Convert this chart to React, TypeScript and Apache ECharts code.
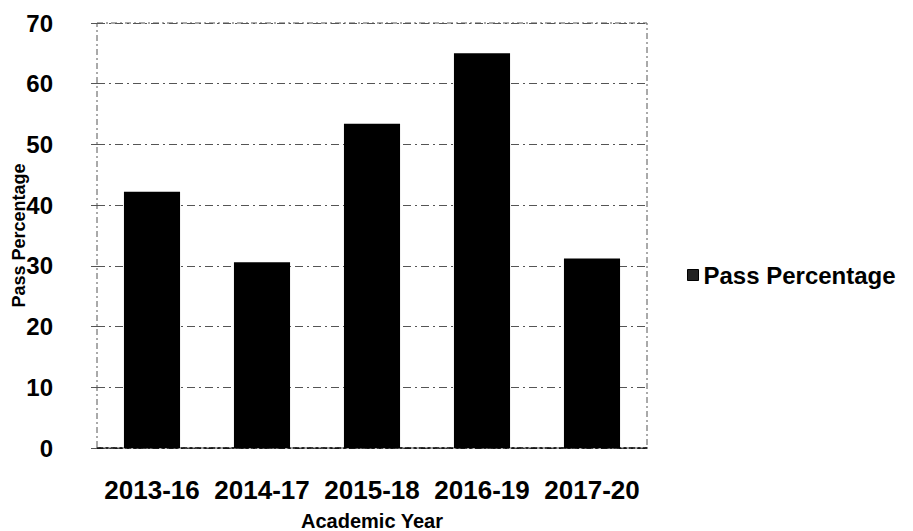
import React, { useEffect, useRef } from "react";
import * as echarts from "echarts";

const categories: string[] = ["2013-16", "2014-17", "2015-18", "2016-19", "2017-20"];
const passPercentage: number[] = [42.2, 30.6, 53.4, 65.0, 31.2];
const seriesName = "Pass Percentage";
const yAxisName = "Pass Percentage";
const xAxisName = "Academic Year";

export default function App() {
  const ref = useRef<HTMLDivElement>(null);
  useEffect(() => {
    if (!ref.current) return;
    const chart = echarts.init(ref.current, null, { renderer: "svg" });
    const font = "'Liberation Sans', Arial, sans-serif";
    chart.setOption({
      animation: false,
      backgroundColor: "#ffffff",
      textStyle: { fontFamily: font, color: "#000" },
      grid: {
        left: 97,
        right: 266,
        top: 23,
        bottom: 83,
        containLabel: false,
        outerBoundsMode: "none",
        show: true,
        borderColor: "#555",
        borderWidth: 1,
        borderType: [6, 3, 2, 3],
      },
      legend: {
        show: true,
        orient: "vertical",
        left: 682,
        top: 258,
        itemWidth: 11,
        itemHeight: 11,
        itemGap: 6,
        icon: "rect",
        textStyle: { fontFamily: font, fontSize: 24, fontWeight: "bold", color: "#000" },
        data: [{ name: seriesName, itemStyle: { color: "#222", borderColor: "#000", borderWidth: 1 } }],
      },
      xAxis: {
        type: "category",
        data: categories,
        name: xAxisName,
        nameLocation: "middle",
        nameGap: 63,
        nameMoveOverlap: false,
        nameTextStyle: { fontFamily: font, fontSize: 20, fontWeight: "bold", color: "#000" },
        axisLine: { show: true, lineStyle: { color: "#000", width: 1.5, type: [6, 3, 2, 3] } },
        axisTick: { show: false },
        axisLabel: {
          fontFamily: font,
          fontSize: 26,
          fontWeight: "bold",
          color: "#000",
          margin: 29,
          interval: 0,
        },
      },
      yAxis: {
        type: "value",
        min: 0,
        max: 70,
        interval: 10,
        name: yAxisName,
        nameLocation: "middle",
        nameGap: 69,
        nameMoveOverlap: false,
        nameTextStyle: { fontFamily: font, fontSize: 18, fontWeight: "bold", color: "#000" },
        axisLine: { show: false },
        axisTick: { show: true, inside: false, length: 6, lineStyle: { color: "#555" } },
        axisLabel: { fontFamily: font, fontSize: 24, fontWeight: "bold", color: "#000", margin: 44 },
        splitLine: { show: true, lineStyle: { color: "#555", width: 1, type: [8, 4, 2, 4] } },
      },
      series: [
        {
          name: seriesName,
          type: "bar",
          data: passPercentage,
          barWidth: "51%",
          itemStyle: { color: "#000" },
        },
      ],
    });
    return () => chart.dispose();
  }, []);
  return <div ref={ref} style={{ width: 913, height: 531, position: "absolute", left: 0, top: 0 }} />;
}
